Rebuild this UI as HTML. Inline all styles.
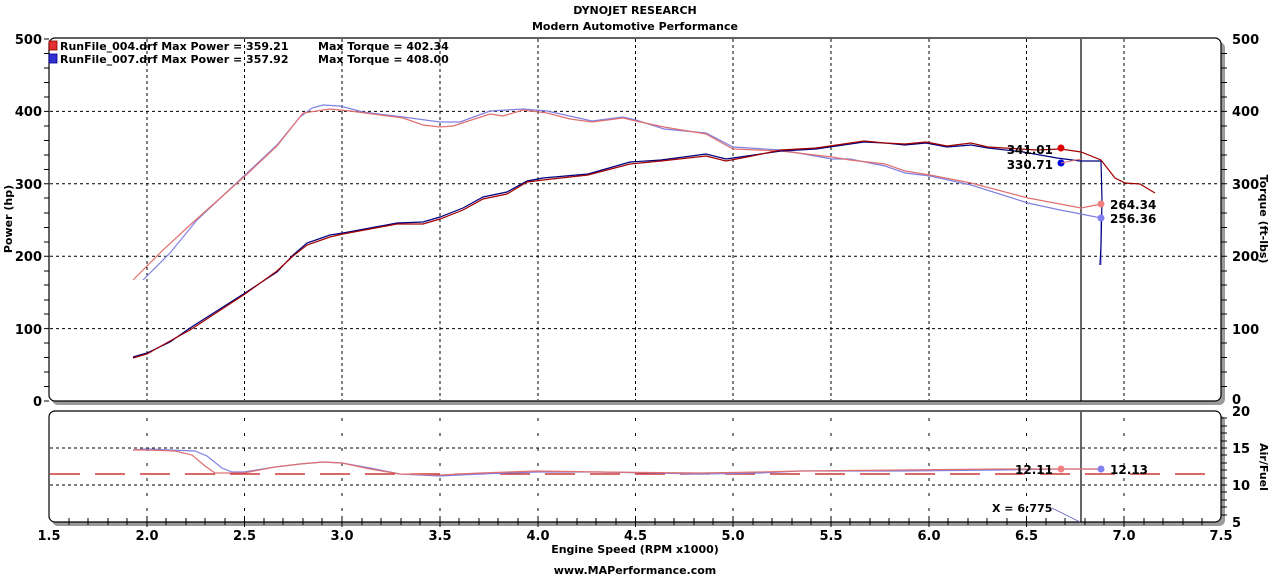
<!DOCTYPE html>
<html><head><meta charset="utf-8"><style>
html,body{margin:0;padding:0;background:#fff}
svg{display:block;font-family:"DejaVu Sans","Liberation Sans",sans-serif;font-weight:bold}
</style></head><body>
<svg width="1271" height="576" viewBox="0 0 1271 576" xmlns="http://www.w3.org/2000/svg">
<rect width="1271" height="576" fill="#fff"/>
<text x="635" y="14" font-size="11" text-anchor="middle">DYNOJET RESEARCH</text>
<text x="635" y="30" font-size="11" text-anchor="middle">Modern Automotive Performance</text>
<rect x="52" y="42" width="1173" height="363" rx="6" fill="#9a9a9a"/>
<rect x="49" y="38" width="1172" height="363" rx="6" fill="#fff" stroke="#000" stroke-width="1.2"/>
<rect x="52" y="415" width="1173" height="111" rx="6" fill="#9a9a9a"/>
<rect x="49" y="411" width="1172" height="111" rx="6" fill="#fff" stroke="#000" stroke-width="1.2"/>
<g stroke="#000" stroke-width="1" stroke-dasharray="3,3">
<path d="M147 39V400M244.5 39V400M342 39V400M440 39V400M538 39V400M635.5 39V400M733 39V400M831 39V400M929 39V400M1026.5 39V400M1124 39V400"/>
<path d="M50 328.6H1220M50 256.2H1220M50 183.8H1220M50 111.4H1220"/>
<path d="M50 448H1220M50 485H1220"/>
</g>
<g stroke="#000" stroke-width="1" stroke-dasharray="3,12">
<path d="M147 418V520M244.5 418V520M342 418V520M440 418V520M538 418V520M635.5 418V520M733 418V520M831 418V520M929 418V520M1026.5 418V520M1124 418V520"/>
</g>
<g stroke="#000" stroke-width="1">
<path d="M44 39H49M44 53.5H49M44 68H49M44 82.5H49M44 97H49M44 111.4H49M44 126H49M44 140.5H49M44 155H49M44 169.5H49M44 183.8H49M44 198H49M44 213H49M44 227.5H49M44 242H49M44 256.2H49M44 271H49M44 285H49M44 300H49M44 314H49M44 328.6H49M44 343H49M44 357.5H49M44 372H49M44 386.5H49M44 401H49"/>
<path d="M1221 53.5H1227M1221 68H1227M1221 82.5H1227M1221 97H1227M1221 111.4H1227M1221 126H1227M1221 140.5H1227M1221 155H1227M1221 169.5H1227M1221 183.8H1227M1221 198H1227M1221 213H1227M1221 227.5H1227M1221 242H1227M1221 256.2H1227M1221 271H1227M1221 285H1227M1221 300H1227M1221 314H1227M1221 328.6H1227M1221 343H1227M1221 357.5H1227M1221 372H1227M1221 386.5H1227"/>
<path d="M1221 418H1227M1221 426H1227M1221 433H1227M1221 441H1227M1221 448H1227M1221 455H1227M1221 463H1227M1221 470H1227M1221 478H1227M1221 485H1227M1221 492H1227M1221 500H1227M1221 507H1227M1221 515H1227"/>
</g>
<g stroke="#000" stroke-width="1">
<path d="M69 518V525M88 518V525M108 518V525M127 518V525M147 516V527M166 518V525M186 518V525M205 518V525M225 518V525M244.5 516V527M264 518V525M283 518V525M303 518V525M322 518V525M342 516V527M362 518V525M381 518V525M401 518V525M420 518V525M440 516V527M459 518V525M479 518V525M498 518V525M518 518V525M538 516V527M557 518V525M577 518V525M596 518V525M616 518V525M635.5 516V527M655 518V525M674 518V525M694 518V525M713 518V525M733 516V527M753 518V525M772 518V525M792 518V525M811 518V525M831 516V527M850 518V525M870 518V525M889 518V525M909 518V525M929 516V527M948 518V525M968 518V525M987 518V525M1007 518V525M1026.5 516V527M1046 518V525M1065 518V525M1085 518V525M1104 518V525M1124 516V527M1144 518V525M1163 518V525M1183 518V525M1202 518V525"/>
</g>
<g font-size="13" text-anchor="end">
<text x="42" y="44">500</text><text x="42" y="116">400</text><text x="42" y="189">300</text><text x="42" y="261">200</text><text x="42" y="334">100</text><text x="42" y="406">0</text>
</g>
<g font-size="13">
<text x="1232" y="44">500</text><text x="1232" y="116">400</text><text x="1232" y="189">300</text><text x="1232" y="261">200</text><text x="1232" y="334">100</text><text x="1232" y="404">0</text>
<text x="1232" y="416">20</text><text x="1232" y="453">15</text><text x="1232" y="490">10</text><text x="1232" y="527">5</text>
</g>
<g font-size="13" text-anchor="middle">
<text x="49" y="540">1.5</text><text x="147" y="540">2.0</text><text x="244.5" y="540">2.5</text><text x="342" y="540">3.0</text><text x="440" y="540">3.5</text><text x="538" y="540">4.0</text><text x="635.5" y="540">4.5</text><text x="733" y="540">5.0</text><text x="831" y="540">5.5</text><text x="929" y="540">6.0</text><text x="1026.5" y="540">6.5</text><text x="1124" y="540">7.0</text><text x="1221" y="540">7.5</text>
</g>
<text x="635" y="553" font-size="11" text-anchor="middle">Engine Speed (RPM x1000)</text>
<text x="635" y="574" font-size="11" text-anchor="middle">www.MAPerformance.com</text>
<text transform="translate(12,219) rotate(-90)" font-size="11" text-anchor="middle">Power (hp)</text>
<text transform="translate(1260,219) rotate(90)" font-size="11" text-anchor="middle">Torque (ft-lbs)</text>
<text transform="translate(1260,467) rotate(90)" font-size="11" text-anchor="middle">Air/Fuel</text>
<rect x="49" y="41" width="8" height="9" fill="#e03030" stroke="#800" stroke-width="0.8"/>
<rect x="49" y="54" width="8" height="9" fill="#3030d0" stroke="#008" stroke-width="0.8"/>
<g font-size="11"><text x="60" y="50">RunFile_004.drf Max Power = 359.21</text><text x="318" y="50">Max Torque = 402.34</text>
<text x="60" y="63">RunFile_007.drf Max Power = 357.92</text><text x="318" y="63">Max Torque = 408.00</text></g>
<path d="M1081 39V401M1081 412V522" stroke="#000" stroke-width="1.2"/>
<path d="M50 474H1220" stroke="#c01010" stroke-width="1.3" stroke-dasharray="30,15"/>
<!-- torque -->
<polyline fill="none" stroke="#8080e0" stroke-width="1.2" points="143,280 170,253 197,220 245,175 277,145 300,117 312,108 323,105 340,106 363,112 403,117 440,122 460,122 490,111 523,109 547,111 592,121 623,117 636,120 664,129 706,133 733,147 781,150 832,159 850,159 885,166 905,173 930,176 971,185 1028,203 1060,210 1081,214 1101,218 1101,265"/>
<polyline fill="none" stroke="#e07070" stroke-width="1.2" points="133,280 163,250 190,225 245,176 277,146 303,113 330,109 350,111 403,118 423,125 440,127 453,126 490,114 503,116 523,110 547,113 570,119 592,122 623,118 636,121 664,127 706,134 733,149 781,151 832,157 850,160 885,164 905,171 930,175 971,183 1028,198 1060,204 1081,208 1101,204 M1085,212 1100,222 1120,236 1140,244 1154,248"/>
<!-- power -->
<polyline fill="none" stroke="#000080" stroke-width="1.2" points="133,357 147,353 170,342 190,328 245,293 277,272 293,255 307,243 330,235 343,233 370,228 397,223 423,222 440,217 463,208 483,197 507,192 527,181 543,178 588,174 630,162 661,160 706,154 726,159 747,156 781,151 816,149 864,142 885,143 905,145 926,143 947,147 971,145 988,148 1023,152 1057,158 1080,161 1101,161 1102,200 1101,245 1100,265"/>
<polyline fill="none" stroke="#a00000" stroke-width="1.2" points="133,358 147,354 170,341 190,330 245,294 277,271 293,256 307,245 330,237 343,234 370,229 397,224 423,224 440,219 463,210 483,199 507,194 527,182 543,180 588,175 630,164 661,161 706,156 726,161 747,157 781,150 816,148 864,141 885,143 905,144 926,142 947,146 971,143 988,147 1037,150 1061,149 1081,152 1101,160 1115,178 1125,183 1140,184 1155,193"/>
<!-- AFR -->
<polyline fill="none" stroke="#8080e0" stroke-width="1.2" points="133,450 147,449 170,450 195,451 207,456 222,468 232,472 244,472 275,467 300,464 323,462 342,463 370,468 400,474 440,476 480,474 537,472 600,472 700,474 760,473 800,471 900,471 1000,470 1061,469 1101,469"/>
<polyline fill="none" stroke="#e07070" stroke-width="1.2" points="133,450 147,450 175,451 192,455 205,466 215,473 244,473 275,467 300,464 323,462 342,463 370,469 400,474 440,475 480,473 537,471 600,472 700,473 760,472 800,471 900,470 1000,469 1061,469 1081,469 1101,469"/>
<circle cx="1061" cy="148" r="3.5" fill="#e00000"/>
<circle cx="1061" cy="163" r="3.5" fill="#0000e0"/>
<path d="M1061 163L1081 159" stroke="#e07070"/>
<circle cx="1101" cy="204" r="3.5" fill="#f08080"/>
<circle cx="1101" cy="218" r="3.5" fill="#8080f0"/>
<circle cx="1061" cy="469" r="3.5" fill="#f08080"/>
<circle cx="1101" cy="469" r="3.5" fill="#8080f0"/>
<g font-size="12">
<text x="1053" y="154" text-anchor="end">341.01</text>
<text x="1053" y="169" text-anchor="end">330.71</text>
<text x="1110" y="209">264.34</text>
<text x="1110" y="223">256.36</text>
<text x="1053" y="474" text-anchor="end">12.11</text>
<text x="1110" y="474">12.13</text>
<text x="992" y="512" font-size="11">X = 6:775</text>
</g>
<path d="M1052 508L1080 522" stroke="#6060c0" stroke-width="0.8"/>
</svg>
</body></html>
